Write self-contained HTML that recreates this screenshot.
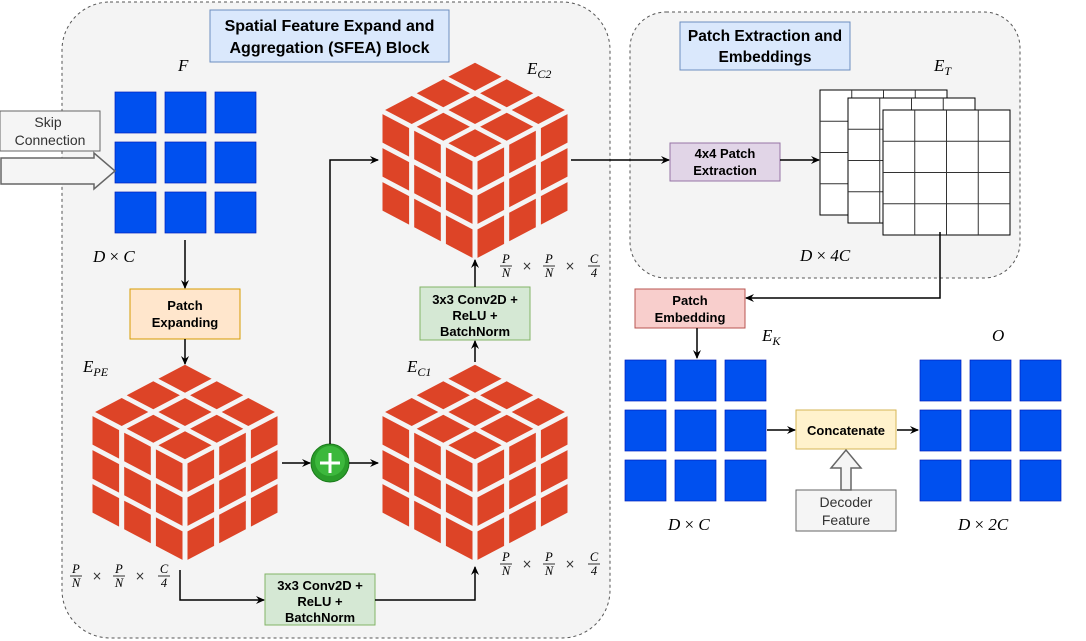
<!DOCTYPE html>
<html><head><meta charset="utf-8"><style>
body{margin:0;background:#fff;width:1086px;height:641px;overflow:hidden}
svg{display:block}
.t{font-family:"Liberation Sans",sans-serif;font-size:13px;font-weight:bold;text-anchor:middle}
.n{font-family:"Liberation Sans",sans-serif;font-size:14px;text-anchor:middle;fill:#333}
.m{font-family:"Liberation Serif",serif;font-style:italic;font-size:17px}
.s{font-family:"Liberation Serif",serif;font-size:12.5px;font-style:italic;text-anchor:middle}
.x{font-family:"DejaVu Sans",sans-serif;font-size:12px;fill:#333}
</style></head><body>
<svg id="sv" width="1086" height="641" xmlns="http://www.w3.org/2000/svg">
<defs><marker id="a" markerWidth="10" markerHeight="10" refX="8" refY="5" orient="auto" markerUnits="userSpaceOnUse"><path d="M0,1 L9,5 L0,9 L3,5Z" fill="#000"/></marker></defs>
<rect x="62" y="2" width="548" height="636" rx="48" fill="#f4f4f4" stroke="#555" stroke-dasharray="3,3"/>
<rect x="630" y="12" width="390" height="266" rx="36" fill="#f4f4f4" stroke="#555" stroke-dasharray="3,3"/>
<rect x="210" y="10" width="239" height="52" fill="#dae8fc" stroke="#6c8ebf"/>
<text class="t" style="font-size:16px" x="329.5" y="31">Spatial Feature Expand and</text>
<text class="t" style="font-size:16px" x="329.5" y="53">Aggregation (SFEA) Block</text>
<rect x="680" y="22" width="170" height="48" fill="#dae8fc" stroke="#6c8ebf"/>
<text class="t" style="font-size:15.5px" x="765" y="41">Patch Extraction and</text>
<text class="t" style="font-size:15.5px" x="765" y="62">Embeddings</text>
<g id="cubes"></g>
<g id="sq"></g>
<rect x="0" y="111" width="100" height="40" fill="#f5f5f5" stroke="#666"/>
<text class="n" x="48" y="127">Skip</text><text class="n" x="50" y="145">Connection</text>
<path d="M1,158 H94 V153 L115,171 L94,189 V184 H1Z" fill="#f5f5f5" stroke="#666" stroke-width="1.5"/>
<rect x="130" y="289" width="110" height="50" fill="#ffe6cc" stroke="#d79b00"/>
<text class="t" x="185" y="310">Patch</text><text class="t" x="185" y="327">Expanding</text>
<rect x="420" y="287" width="110" height="53" fill="#d5e8d4" stroke="#82b366"/>
<text class="t" x="475" y="304">3x3 Conv2D +</text><text class="t" x="475" y="320">ReLU +</text><text class="t" x="475" y="336">BatchNorm</text>
<rect x="265" y="574" width="110" height="51" fill="#d5e8d4" stroke="#82b366"/>
<text class="t" x="320" y="590">3x3 Conv2D +</text><text class="t" x="320" y="606">ReLU +</text><text class="t" x="320" y="622">BatchNorm</text>
<rect x="670" y="143" width="110" height="38" fill="#e1d5e7" stroke="#9673a6"/>
<text class="t" x="725" y="158">4x4 Patch</text><text class="t" x="725" y="175">Extraction</text>
<rect x="635" y="289" width="110" height="39" fill="#f8cecc" stroke="#b85450"/>
<text class="t" x="690" y="305">Patch</text><text class="t" x="690" y="322">Embedding</text>
<rect x="796" y="410" width="100" height="39" fill="#fff2cc" stroke="#d6b656"/>
<text class="t" x="846" y="435">Concatenate</text>
<rect x="796" y="490" width="100" height="41" fill="#f5f5f5" stroke="#666"/>
<text class="n" x="846" y="507">Decoder</text><text class="n" x="846" y="525">Feature</text>
<path d="M841,490 V468 H831 L846,450 L861,468 H851 V490Z" fill="#f5f5f5" stroke="#666" stroke-width="1.5"/>
<g id="st"></g>
<circle cx="330" cy="463" r="19" fill="#2a9d2a" stroke="#1a7a1a"/>
<circle cx="330" cy="461" r="15" fill="#3cb83c"/>
<path d="M320,463 H340 M330,453 V473" stroke="#fff" stroke-width="3"/>
<g stroke="#000" stroke-width="1.5" fill="none" marker-end="url(#a)">
<path d="M185,240 V288"/>
<path d="M185,339 V364"/>
<path d="M282,463 H310"/>
<path d="M349,463 H378"/>
<path d="M330,444 V160 H378"/>
<path d="M180,570 V600 H264"/>
<path d="M375,600 H475 V567"/>
<path d="M475,362 V341"/>
<path d="M475,287 V260"/>
<path d="M571,160 H669"/>
<path d="M780,160 H819"/>
<path d="M940,232 V298 H746"/>
<path d="M697,328 V358"/>
<path d="M767,430 H795"/>
<path d="M897,430 H918"/>
</g>
<text class="m" x="178" y="71">F</text>
<text class="m" x="93" y="262">D <tspan font-style="normal">×</tspan> C</text>
<text class="m" x="527" y="74">E<tspan font-size="12" dy="4">C2</tspan></text>
<text class="m" x="83" y="372">E<tspan font-size="12" dy="4">PE</tspan></text>
<text class="m" x="407" y="372">E<tspan font-size="12" dy="4">C1</tspan></text>
<text class="m" x="934" y="71">E<tspan font-size="12" dy="4">T</tspan></text>
<text class="m" x="762" y="341">E<tspan font-size="12" dy="4">K</tspan></text>
<text class="m" x="992" y="341">O</text>
<text class="m" x="800" y="261">D <tspan font-style="normal">×</tspan>  4C</text>
<text class="m" x="668" y="530">D <tspan font-style="normal">×</tspan>  C</text>
<text class="m" x="958" y="530">D <tspan font-style="normal">×</tspan>  2C</text>
<g id="fr"></g>
</svg>
<script>
var NS="http://www.w3.org/2000/svg";
function el(p,t,a){var e=document.createElementNS(NS,t);for(var k in a)e.setAttribute(k,a[k]);p.appendChild(e);return e;}
var cg=document.getElementById("cubes");
function cube(X,Y){
 var faces=[[[95,0],[-95,50],[95,50]],[[0,50],[95,50],[0,102]],[[95,100],[95,-50],[0,102]]];
 faces.forEach(function(f){var o=f[0],u=f[1],v=f[2];
  for(var i=0;i<3;i++)for(var j=0;j<3;j++){var g=0.08;
   var a=[(i+g)/3,(j+g)/3],b=[(i+1-g)/3,(j+g)/3],c=[(i+1-g)/3,(j+1-g)/3],d=[(i+g)/3,(j+1-g)/3];
   var pts=[a,b,c,d].map(function(q){return (X+o[0]+u[0]*q[0]+v[0]*q[1]).toFixed(1)+","+(Y+o[1]+u[1]*q[0]+v[1]*q[1]).toFixed(1);}).join(" ");
   el(cg,"polygon",{points:pts,fill:"#dd4427"});}
 });
}
cube(380,60);cube(90,362);cube(380,362);
var sq=document.getElementById("sq");
function grid(x,y){for(var i=0;i<3;i++)for(var j=0;j<3;j++)el(sq,"rect",{x:x+50*i,y:y+50*j,width:41,height:41,fill:"#0050ef",stroke:"#001dbc","stroke-width":0.7});}
grid(115,92);grid(625,360);grid(920,360);
var st=document.getElementById("st");
[[820,90],[848,98],[883,110]].forEach(function(p){
 el(st,"rect",{x:p[0],y:p[1],width:127,height:125,fill:"#fff",stroke:"#000"});
 for(var k=1;k<4;k++){el(st,"line",{x1:p[0]+k*31.75,y1:p[1],x2:p[0]+k*31.75,y2:p[1]+125,stroke:"#333"});
  el(st,"line",{x1:p[0],y1:p[1]+k*31.25,x2:p[0]+127,y2:p[1]+k*31.25,stroke:"#333"});}
});
var fr=document.getElementById("fr");
function frac(x,y){
 function f(cx,t,b){var a=el(fr,"text",{"class":"s",x:cx,y:y-2});a.textContent=t;
  el(fr,"line",{x1:cx-6,y1:y+1,x2:cx+6,y2:y+1,stroke:"#000","stroke-width":0.8});
  var c=el(fr,"text",{"class":"s",x:cx,y:y+12,"font-style":b=="4"?"normal":"italic"});c.textContent=b;}
 f(x,"P","N");var t=el(fr,"text",{"class":"x",x:x+16,y:y+5});t.textContent="×";
 f(x+43,"P","N");t=el(fr,"text",{"class":"x",x:x+59,y:y+5});t.textContent="×";
 f(x+88,"C","4");
}
frac(506,265);frac(76,575);frac(506,563);
</script>
</body></html>
